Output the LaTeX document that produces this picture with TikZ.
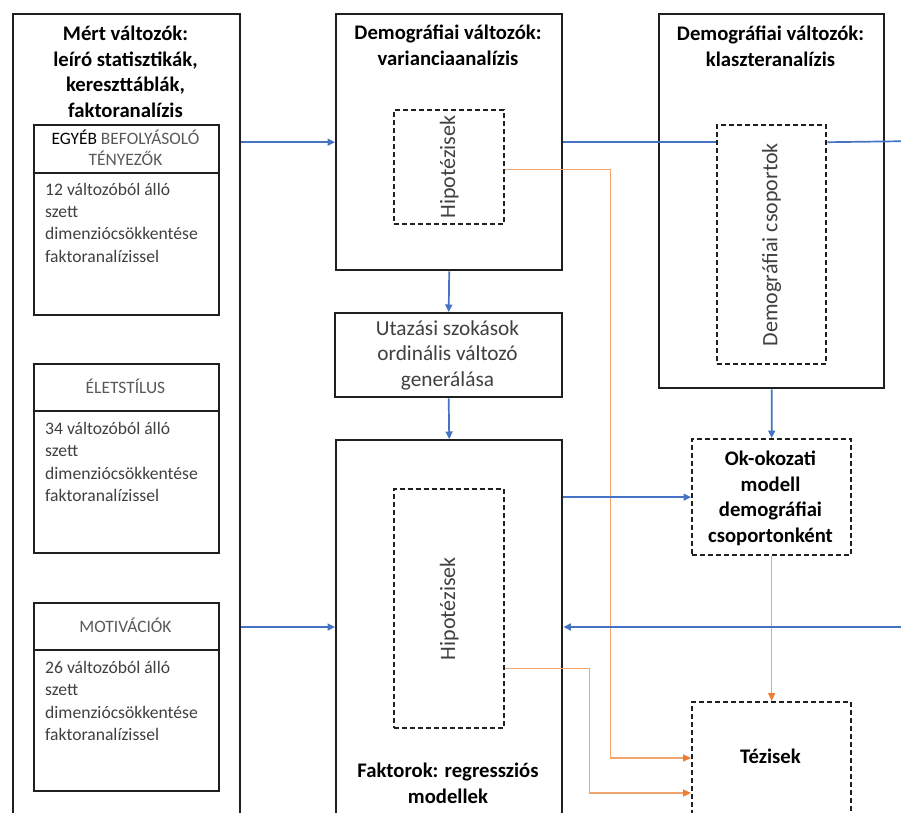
\documentclass[tikz,border=0pt]{standalone}
\usepackage{fontspec}
\setmainfont{Carlito}
\usetikzlibrary{arrows.meta}
\definecolor{cblue}{HTML}{4472C4}
\definecolor{corange}{HTML}{ED7D31}
\definecolor{ctext}{HTML}{404040}
\definecolor{chead}{HTML}{595959}
\newcommand\mytopstrut{\rule{0pt}{0.9em}}
\tikzset{
  box/.style={draw=black!88, line width=2.4pt, inner sep=0pt, anchor=north west},
  dbox/.style={draw=black!88, line width=2.3pt, dash pattern=on 5pt off 3pt, inner sep=0pt, anchor=north west},
  divline/.style={draw=black!88, line width=2.4pt},
  ttl/.style={font=\fontsize{20.7}{25.7}\selectfont\bfseries, align=center, inner sep=0pt, anchor=north},
  plain/.style={font=\fontsize{21.3}{25.5}\selectfont, text=ctext, align=center, inner sep=0pt, anchor=north},
  hdr/.style={font=\fontsize{17.4}{21.5}\selectfont, text=chead, align=center, inner sep=0pt, anchor=north},
  bodytxt/.style={font=\fontsize{17.6}{22.3}\selectfont, text=ctext, align=left, inner sep=0pt, anchor=north west},
  rottxt/.style={font=\fontsize{22}{25}\selectfont, text=ctext, rotate=90, inner sep=0pt},
  bline/.style={draw=cblue, line width=1.7pt},
  barrow/.style={bline, -{Triangle[length=7.5pt,width=7pt]}},
  oarrow/.style={draw=corange!70, line width=1.2pt, -{Triangle[length=8pt,width=7pt,color=corange]}},
}
\begin{document}
\begin{tikzpicture}[x=1pt,y=-1pt]
\useasboundingbox (0,0) rectangle (901,812);
\fill[white] (0,0) rectangle (901,812);
\clip (0,0) rectangle (901,812);

% left column
\node[box, minimum width=227pt, minimum height=830pt] (mert) at (12,13) {};
\node[ttl] (merttitle) at (125.5,21.5) {\mytopstrut Mért változók:\\leíró statisztikák,\\kereszttáblák,\\faktoranalízis};

\node[box, minimum width=185pt, minimum height=190pt] (sub1) at (33,124) {};
\draw[divline] ([yshift=-49pt]sub1.north west) -- ([yshift=-49pt]sub1.north east);
\node[hdr] (sub1h) at (125.5,128.2) {\mytopstrut\textcolor{black}{EGYÉB} BEFOLYÁSOLÓ\\TÉNYEZŐK};
\node[bodytxt] (sub1b) at (45,179.3) {\mytopstrut 12 változóból álló\\szett\\dimenziócsökkentése\\faktoranalízissel};

\node[box, minimum width=185pt, minimum height=189pt] (sub2) at (33,363) {};
\draw[divline] ([yshift=-48pt]sub2.north west) -- ([yshift=-48pt]sub2.north east);
\node[hdr] (sub2h) at (125.5,377.5) {\mytopstrut ÉLETSTÍLUS};
\node[bodytxt] (sub2b) at (45,418.5) {\mytopstrut 34 változóból álló\\szett\\dimenziócsökkentése\\faktoranalízissel};

\node[box, minimum width=185pt, minimum height=188pt] (sub3) at (33,602) {};
\draw[divline] ([yshift=-48pt]sub3.north west) -- ([yshift=-48pt]sub3.north east);
\node[hdr] (sub3h) at (125.5,616.5) {\mytopstrut MOTIVÁCIÓK};
\node[bodytxt] (sub3b) at (45,657.5) {\mytopstrut 26 változóból álló\\szett\\dimenziócsökkentése\\faktoranalízissel};

% middle column
\node[box, minimum width=226pt, minimum height=256pt] (var) at (335,13) {};
\node[ttl] (vartitle) at (448,20.5) {\mytopstrut Demográfiai változók:\\varianciaanalízis};
\node[dbox, minimum width=110pt, minimum height=114pt] (hyp1) at (393,109) {};
\node[rottxt] (hyp1t) at (hyp1.center) {Hipotézisek};

\node[box, minimum width=227pt, minimum height=84pt] (utaz) at (334,312) {};
\node[plain] (utaztxt) at (447.5,316) {\mytopstrut Utazási szokások\\ordinális változó\\generálása};

\node[box, minimum width=226pt, minimum height=400pt] (fakt) at (335,439) {};
\node[dbox, minimum width=110pt, minimum height=239pt] (hyp2) at (393,488) {};
\node[rottxt] (hyp2t) at (hyp2.center) {Hipotézisek};
\node[ttl] (fakttitle) at (448,758.5) {\mytopstrut Faktorok: regressziós\\modellek};

% right column
\node[box, minimum width=225pt, minimum height=374pt] (klaszter) at (658,13) {};
\node[ttl] (klaszttitle) at (770.5,21.5) {\mytopstrut Demográfiai változók:\\klaszteranalízis};
\node[dbox, minimum width=109pt, minimum height=239pt] (csop) at (716,124) {};
\node[rottxt] (csopt) at (csop.center) {Demográfiai csoportok};

\node[dbox, minimum width=159pt, minimum height=116pt] (ok) at (691,438) {};
\node[ttl] (oktxt) at (770.5,446.5) {\mytopstrut Ok-okozati\\modell\\demográfiai\\csoportonként};

\node[dbox, minimum width=159pt, minimum height=150pt] (tez) at (691,701) {};
\node[ttl] (teztxt) at (770.5,744.5) {\mytopstrut Tézisek};

% coordinates for connectors
\coordinate (wrapA) at (920,141);
\coordinate (wrapB) at (920,627);
\coordinate (t1) at ([yshift=-57pt]tez.north west);
\coordinate (t2) at ([yshift=-92pt]tez.north west);

% orange connectors
\draw[oarrow] ([yshift=-2pt]hyp1.east) -- ++(105,0) |- (t1);
\draw[oarrow] ([yshift=-59.5pt]hyp2.east) -- ++(84,0) |- (t2);
\draw[oarrow] (ok.south) -- (tez.north);

% blue connectors
\draw[barrow] (var.west -| mert.east) -- (var.west);
\draw[bline] (var.east) -- (var.east -| csop.west);
\draw[barrow] (var.east -| csop.east) -- (wrapA) -- (wrapB) -- (fakt.east |- wrapB);
\draw[barrow] (mert.east |- wrapB) -- (fakt.west |- wrapB);
\draw[barrow] (var.south) -- (utaz.north);
\draw[barrow] (utaz.south) -- (fakt.north);
\draw[barrow] (klaszter.south) -- (ok.north);
\draw[barrow] (fakt.east |- ok.west) -- (ok.west);
\end{tikzpicture}
\end{document}
